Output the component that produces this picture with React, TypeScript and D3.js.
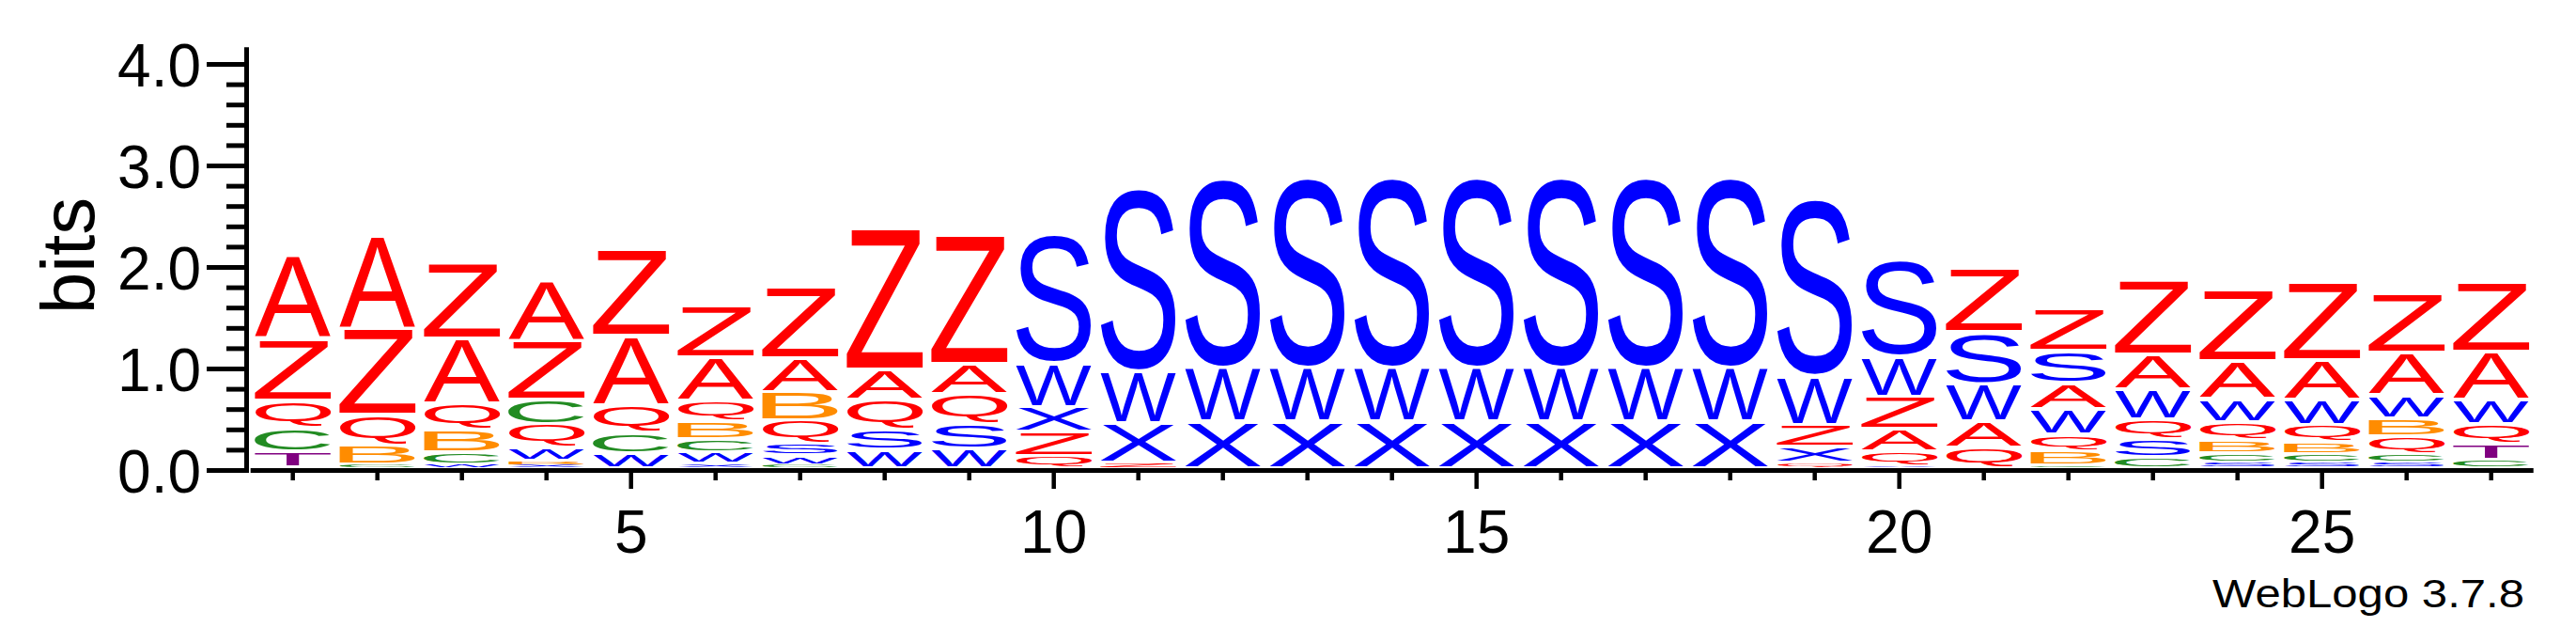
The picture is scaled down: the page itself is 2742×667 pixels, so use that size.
import { useMemo } from "react"
import * as d3 from "d3"

// sequence positions and axis labels
const POSITIONS = d3.range(1, 28)
const X_TICK_LABELS = [5, 10, 15, 20, 25]
const Y_TICK_LABELS = [0, 1, 2, 3, 4]
const Y_MAX_BITS = Math.log2(18)

// bits per letter at each position (1..27)
const A = [0.82, 0.91, 0.64, 0.59, 0.68, 0.43, 0.33, 0.30, 0.30, 0, 0, 0, 0, 0, 0, 0, 0, 0, 0, 0.22, 0.26, 0.255, 0.34, 0.37, 0.39, 0.414, 0.48]
const Z = [0.61, 0.85, 0.75, 0.58, 0.86, 0.51, 0.70, 1.39, 1.27, 0.235, 0.05, 0, 0, 0, 0, 0, 0, 0, 0.22, 0.32, 0.63, 0.42, 0.73, 0.70, 0.77, 0.584, 0.684]
const Q = [0.27, 0.30, 0.26, 0.23, 0.28, 0.20, 0.23, 0.29, 0.29, 0.12, 0, 0, 0, 0, 0, 0, 0, 0, 0.05, 0.14, 0.196, 0.164, 0.19, 0.18, 0.17, 0.175, 0.19]
const C = [0.23, 0.03, 0.12, 0.24, 0.20, 0.13, 0.03, 0, 0, 0, 0, 0, 0, 0, 0, 0, 0, 0, 0, 0, 0, 0.02, 0.10, 0.08, 0.08, 0.077, 0.08]
const B = [0, 0.19, 0.22, 0.04, 0, 0.18, 0.28, 0, 0, 0, 0, 0, 0, 0, 0, 0, 0, 0, 0, 0, 0, 0.146, 0, 0.13, 0.11, 0.178, 0]
const T = [0.16, 0, 0, 0, 0, 0, 0, 0, 0, 0, 0, 0, 0, 0, 0, 0, 0, 0, 0, 0, 0, 0, 0, 0, 0, 0, 0.16]
const W = [0, 0, 0.03, 0.13, 0.14, 0.11, 0.09, 0.18, 0.185, 0.43, 0.51, 0.53, 0.53, 0.53, 0.53, 0.53, 0.53, 0.53, 0.48, 0.39, 0.37, 0.25, 0.30, 0.23, 0.25, 0.227, 0.237]
const S = [0, 0, 0, 0, 0, 0, 0.12, 0.20, 0.25, 1.29, 1.83, 1.89, 1.90, 1.90, 1.90, 1.90, 1.90, 1.90, 1.77, 0.97, 0.51, 0.32, 0.185, 0.06, 0.06, 0.06, 0]
const X = [0, 0, 0, 0.03, 0, 0.04, 0, 0, 0, 0.245, 0.39, 0.456, 0.455, 0.455, 0.455, 0.455, 0.455, 0.455, 0.155, 0.02, 0, 0, 0, 0, 0, 0, 0]

const SERIES: Record<string, number[]> = { A, B, C, Q, S, T, W, X, Z }

const COLORS: Record<string, string> = {
  A: "#ff0000",
  Z: "#ff0000",
  Q: "#ff0000",
  S: "#0000ff",
  W: "#0000ff",
  X: "#0000ff",
  C: "#228b22",
  B: "#ff8c00",
  T: "#800080",
}

const WIDTH  = 2742
const HEIGHT = 667
const FONT   = '"Liberation Sans", Arial, Helvetica, sans-serif'

const AXIS_X    = 262.5
const AXIS_W    = 5
const LETTER_W  = 0.9
const LIFT      = 3

interface Ink { l: number; r: number; a: number; d: number }

function measureInk(): Record<string, Ink> {
  const out: Record<string, Ink> = {}
  const ctx = document.createElement("canvas").getContext("2d")
  Object.keys(SERIES).forEach((ch) => {
    if (ctx) {
      ctx.font = `100px ${FONT}`
      const m = ctx.measureText(ch)
      if (m.actualBoundingBoxAscent + m.actualBoundingBoxDescent > 0) {
        out[ch] = {
          l: m.actualBoundingBoxLeft,
          r: m.actualBoundingBoxRight,
          a: m.actualBoundingBoxAscent,
          d: m.actualBoundingBoxDescent,
        }
        return
      }
    }
    // rough Arial fallback
    out[ch] = { l: -5, r: 62, a: 72, d: ch === "Q" ? 5 : 0 }
  })
  return out
}

export default function App() {
  const ink = useMemo(measureInk, [])

  const x = d3.scaleLinear().domain([0.5, 27.5]).range([266.7, 2696.7])
  const y = d3.scaleLinear().domain([0, 4]).range([500.5, 68.5])
  const step = x(1) - x(0)

  const stacks = POSITIONS.map((pos, i) => {
    const items = Object.keys(SERIES)
      .map((ch) => ({ ch, bits: SERIES[ch][i] }))
      .filter((d) => d.bits > 0)
      .sort((a, b) => a.bits - b.bits)
    let acc = 0
    return items.map((d) => {
      const y0 = acc
      acc += d.bits
      return { ...d, pos, y0, y1: acc }
    })
  })

  const minorY = d3.range(0, 20).map((k) => k * 0.2).filter((v) => Math.abs(v - Math.round(v)) > 1e-6)
  const axisBottom = y(0) + AXIS_W / 2

  return (
    <svg width={WIDTH} height={HEIGHT} style={{ display: "block" }} fontFamily={FONT}>
      <style>{`body{margin:0;overflow:hidden}`}</style>
      <rect width={WIDTH} height={HEIGHT} fill="#fff" />

      {/* letter stacks */}
      {stacks.flat().map((d) => {
        const g = ink[d.ch]
        const top = y(d.y1) - LIFT
        const bot = y(d.y0) - LIFT
        const h = bot - top
        const pad = Math.min(2, h * 0.15)
        const boxH = h - 2 * pad
        const boxW = step * LETTER_W
        const x0 = x(d.pos) - boxW / 2
        const sx = boxW / (g.l + g.r)
        const sy = boxH / (g.a + g.d)
        return (
          <text
            key={`${d.pos}-${d.ch}`}
            transform={`translate(${x0 + g.l * sx},${top + pad + g.a * sy}) scale(${sx},${sy})`}
            fontSize={100}
            fill={COLORS[d.ch]}
          >
            {d.ch}
          </text>
        )
      })}

      {/* y axis */}
      <line x1={AXIS_X} x2={AXIS_X} y1={y(Y_MAX_BITS)} y2={axisBottom} stroke="#000" strokeWidth={AXIS_W} />
      {Y_TICK_LABELS.map((v) => (
        <g key={v}>
          <line x1={220} x2={AXIS_X} y1={y(v)} y2={y(v)} stroke="#000" strokeWidth={5} />
          <text x={214} y={y(v) + 23} textAnchor="end" fontSize={64}>
            {v.toFixed(1)}
          </text>
        </g>
      ))}
      {minorY.map((v) => (
        <line key={v} x1={241} x2={AXIS_X} y1={y(v)} y2={y(v)} stroke="#000" strokeWidth={5} />
      ))}
      <text transform={`translate(100,272) rotate(-90)`} textAnchor="middle" fontSize={80}>
        bits
      </text>

      {/* x axis */}
      <line x1={x(0.5)} x2={x(27.5)} y1={y(0)} y2={y(0)} stroke="#000" strokeWidth={AXIS_W} />
      {POSITIONS.map((p) => (
        <line
          key={p}
          x1={x(p)}
          x2={x(p)}
          y1={axisBottom}
          y2={axisBottom + (p % 5 === 0 ? 17 : 8)}
          stroke="#000"
          strokeWidth={4.5}
        />
      ))}
      {X_TICK_LABELS.map((p) => (
        <text key={p} x={x(p)} y={588} textAnchor="middle" fontSize={64}>
          {p}
        </text>
      ))}

      <text x={2355} y={646} fontSize={43} textLength={332} lengthAdjust="spacingAndGlyphs">
        WebLogo 3.7.8
      </text>
    </svg>
  )
}
